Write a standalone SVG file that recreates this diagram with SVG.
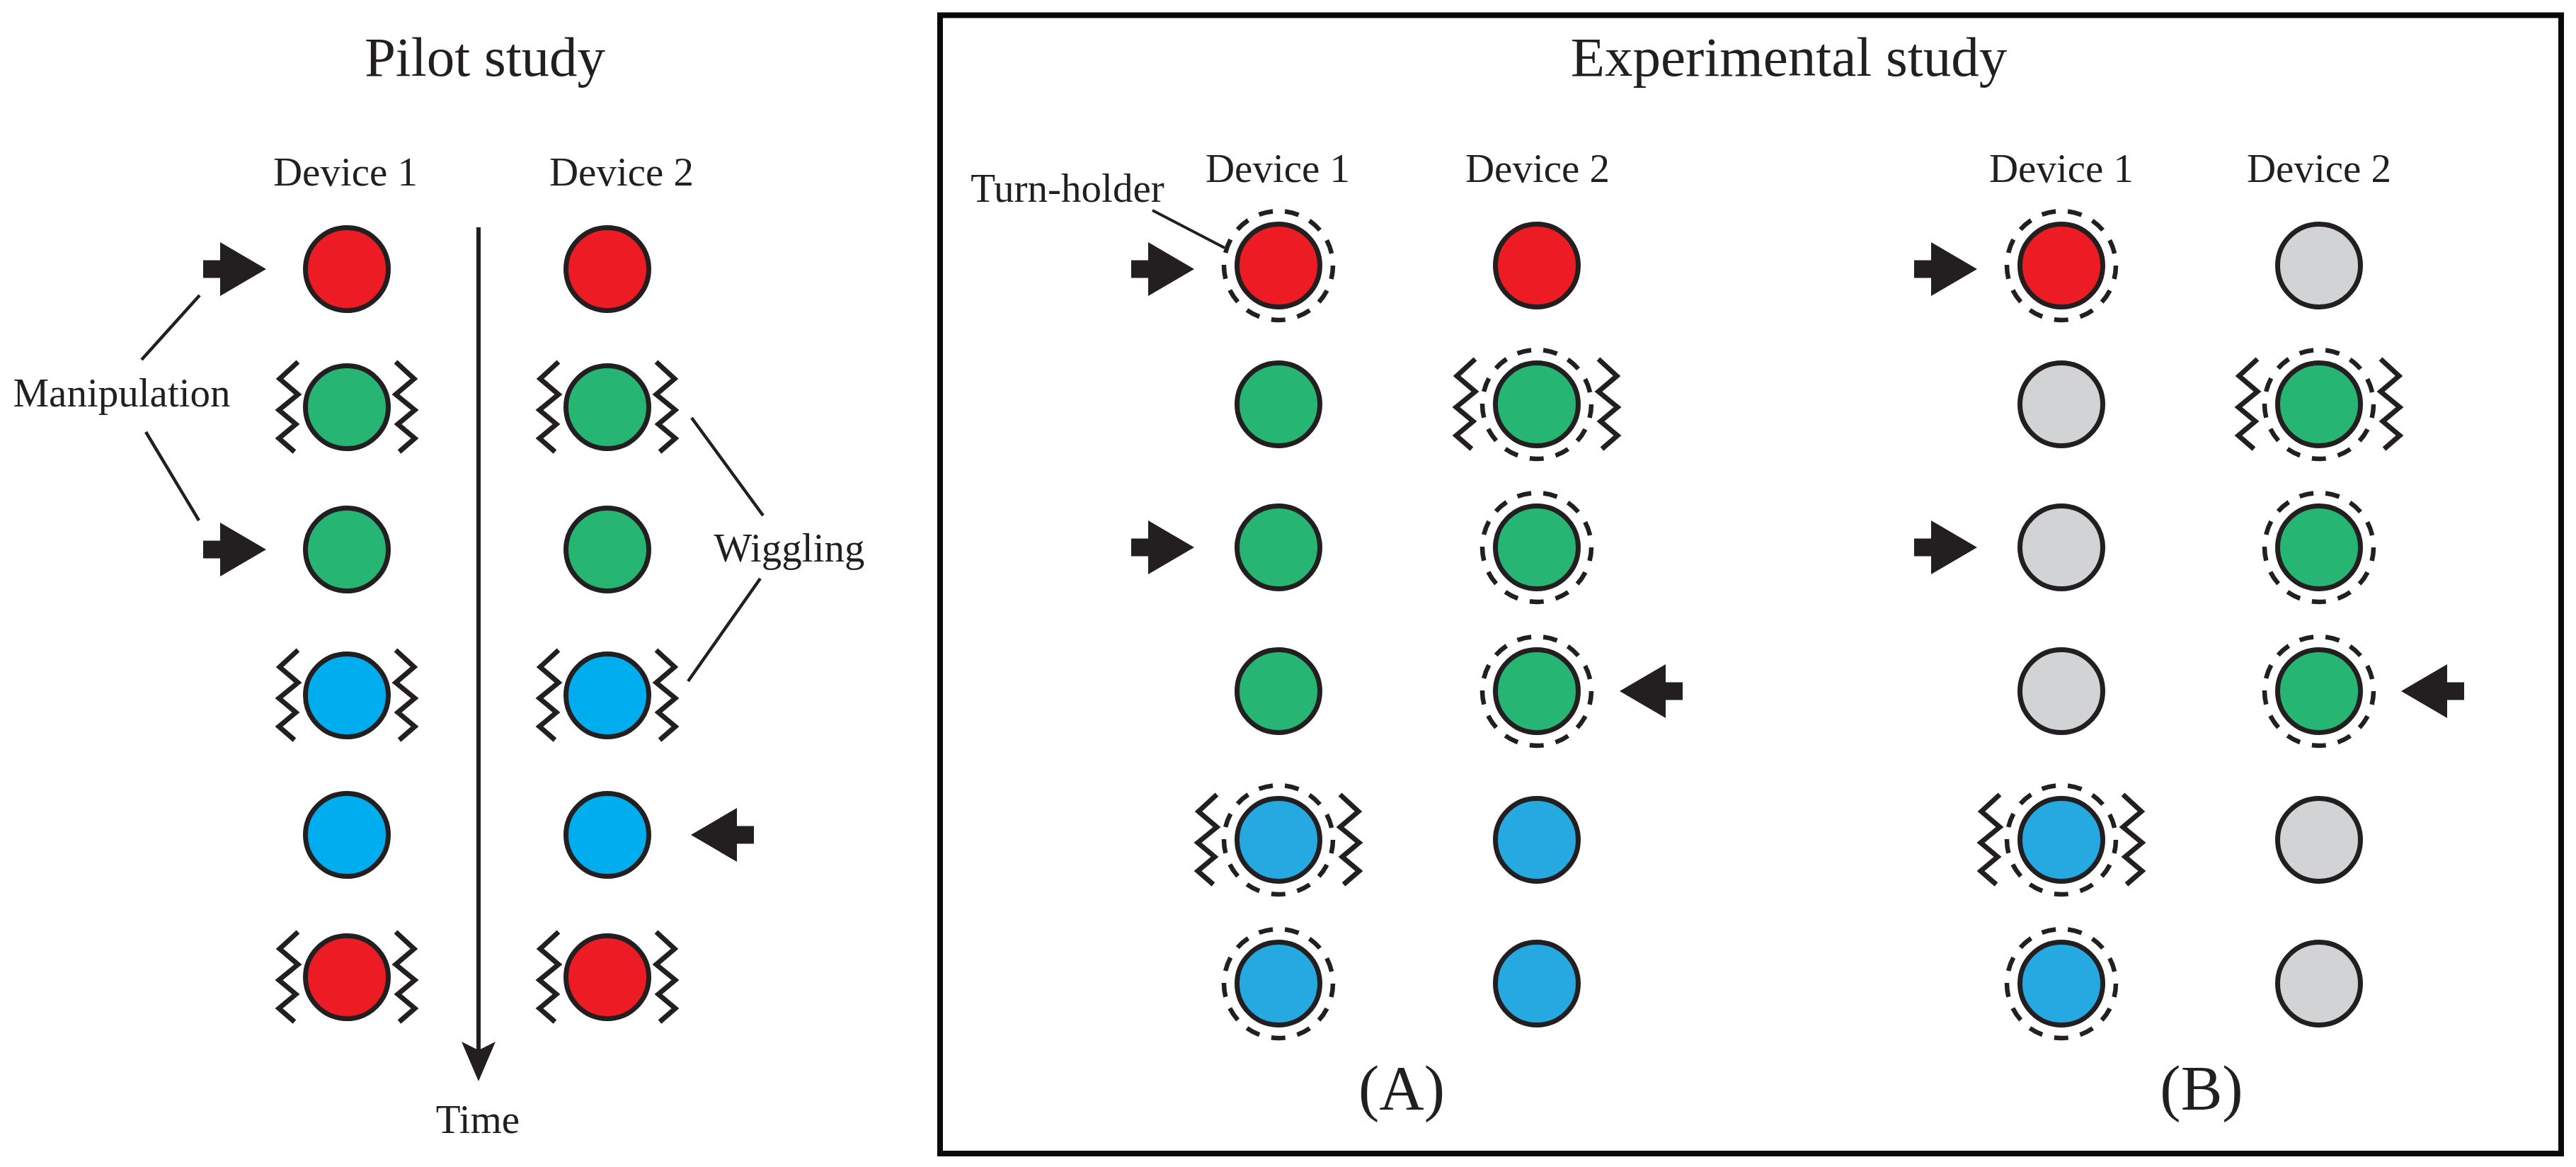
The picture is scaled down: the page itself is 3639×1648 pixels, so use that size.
<svg xmlns="http://www.w3.org/2000/svg" xmlns:xlink="http://www.w3.org/1999/xlink" width="3639" height="1648" viewBox="0 0 3639 1648">
<style>
text{font-family:"Liberation Serif","Times New Roman",serif;fill:#231F20;text-anchor:middle}
.lbl{font-size:57px}
.ttl{font-size:79px}
.big{font-size:88px}
.c{stroke:#231F20;stroke-width:7}
.red{fill:#ED1C24}
.grn{fill:#27B574}
.cyan{fill:#00AEEF}
.blu{fill:#25A9E0}
.gry{fill:#D1D3D4}
.ring{fill:none;stroke:#231F20;stroke-width:6.5;stroke-dasharray:20 17.216;stroke-dashoffset:0.696}
.zz{fill:none;stroke:#231F20;stroke-width:7;stroke-linejoin:miter;stroke-miterlimit:10}
.arr{fill:#231F20}
.ln{stroke:#231F20;stroke-width:4.5;fill:none}
</style>
<defs>
<path id="zz" d="M -69,-64 L -95,-40 L -69,-18 L -96,4 L -72,24 L -96,44 L -74,63"/>
<polygon id="ar" points="-89,-12.5 -65,-12.5 -65,-38 0,0 -65,38 -65,12.5 -89,12.5"/>
</defs>
<rect x="0" y="0" width="3639" height="1648" fill="#FFFFFF"/>

<!-- Titles and labels -->
<g id="labels">
<text class="ttl" x="685" y="107">Pilot study</text>
<text class="ttl" x="2527" y="107">Experimental study</text>
<text class="lbl" x="488" y="262">Device 1</text>
<text class="lbl" x="878" y="262">Device 2</text>
<text class="lbl" x="1805" y="257">Device 1</text>
<text class="lbl" x="2172" y="257">Device 2</text>
<text class="lbl" x="2912" y="257">Device 1</text>
<text class="lbl" x="3276" y="257">Device 2</text>
<text class="lbl" x="172" y="574">Manipulation</text>
<text class="lbl" x="1115" y="793">Wiggling</text>
<text class="lbl" x="675" y="1600">Time</text>
<text class="lbl" x="1508" y="285">Turn-holder</text>
<text class="big" x="1980" y="1566">(A)</text>
<text class="big" x="3110" y="1566">(B)</text>
</g>

<!-- Frame -->
<rect id="frame" x="1328" y="21.5" width="2290" height="1607.5" fill="none" stroke="#0A0908" stroke-width="8"/>

<!-- Connectors -->
<g id="connectors">
<line class="ln" x1="200" y1="508" x2="282" y2="417"/>
<line class="ln" x1="206" y1="610" x2="281" y2="735"/>
<line class="ln" x1="977" y1="590" x2="1078" y2="728"/>
<line class="ln" x1="1074" y1="817" x2="972" y2="962"/>
<line class="ln" style="stroke-width:4" x1="1628" y1="297" x2="1730" y2="350"/>
<line x1="676" y1="321" x2="676" y2="1486" stroke="#231F20" stroke-width="6"/>
<polygon class="arr" points="676,1527 652,1471 676,1483 700,1471"/>
</g>

<!-- Pilot study -->
<g id="pilot-d1-r1"><circle class="c red" cx="490" cy="380" r="58.5"/><use href="#ar" class="arr" transform="translate(376,380)"/></g>
<g id="pilot-d2-r1"><circle class="c red" cx="858" cy="380" r="58.5"/></g>
<g id="pilot-d1-r2"><circle class="c grn" cx="490" cy="575" r="58.5"/><use href="#zz" class="zz" transform="translate(490,575)"/><use href="#zz" class="zz" transform="translate(490,575) scale(-1,1)"/></g>
<g id="pilot-d2-r2"><circle class="c grn" cx="858" cy="575" r="58.5"/><use href="#zz" class="zz" transform="translate(858,575)"/><use href="#zz" class="zz" transform="translate(858,575) scale(-1,1)"/></g>
<g id="pilot-d1-r3"><circle class="c grn" cx="490" cy="776" r="58.5"/><use href="#ar" class="arr" transform="translate(376,776)"/></g>
<g id="pilot-d2-r3"><circle class="c grn" cx="858" cy="776" r="58.5"/></g>
<g id="pilot-d1-r4"><circle class="c cyan" cx="490" cy="982" r="58.5"/><use href="#zz" class="zz" transform="translate(490,982)"/><use href="#zz" class="zz" transform="translate(490,982) scale(-1,1)"/></g>
<g id="pilot-d2-r4"><circle class="c cyan" cx="858" cy="982" r="58.5"/><use href="#zz" class="zz" transform="translate(858,982)"/><use href="#zz" class="zz" transform="translate(858,982) scale(-1,1)"/></g>
<g id="pilot-d1-r5"><circle class="c cyan" cx="490" cy="1179" r="58.5"/></g>
<g id="pilot-d2-r5"><circle class="c cyan" cx="858" cy="1179" r="58.5"/><use href="#ar" class="arr" transform="translate(976,1179) scale(-1,1)"/></g>
<g id="pilot-d1-r6"><circle class="c red" cx="490" cy="1380" r="58.5"/><use href="#zz" class="zz" transform="translate(490,1380)"/><use href="#zz" class="zz" transform="translate(490,1380) scale(-1,1)"/></g>
<g id="pilot-d2-r6"><circle class="c red" cx="858" cy="1380" r="58.5"/><use href="#zz" class="zz" transform="translate(858,1380)"/><use href="#zz" class="zz" transform="translate(858,1380) scale(-1,1)"/></g>

<!-- Experimental (A) -->
<g id="A-d1-r1"><circle class="c red" cx="1806" cy="375" r="58.5"/><circle class="ring" cx="1806" cy="375" r="77"/><use href="#ar" class="arr" transform="translate(1687,380)"/></g>
<g id="A-d2-r1"><circle class="c red" cx="2171" cy="375" r="58.5"/></g>
<g id="A-d1-r2"><circle class="c grn" cx="1806" cy="571" r="58.5"/></g>
<g id="A-d2-r2"><circle class="c grn" cx="2171" cy="571" r="58.5"/><circle class="ring" cx="2171" cy="571" r="77"/><use href="#zz" class="zz" transform="translate(2153,571)"/><use href="#zz" class="zz" transform="translate(2189,571) scale(-1,1)"/></g>
<g id="A-d1-r3"><circle class="c grn" cx="1806" cy="773" r="58.5"/><use href="#ar" class="arr" transform="translate(1687,773)"/></g>
<g id="A-d2-r3"><circle class="c grn" cx="2171" cy="773" r="58.5"/><circle class="ring" cx="2171" cy="773" r="77"/></g>
<g id="A-d1-r4"><circle class="c grn" cx="1806" cy="976" r="58.5"/></g>
<g id="A-d2-r4"><circle class="c grn" cx="2171" cy="976" r="58.5"/><circle class="ring" cx="2171" cy="976" r="77"/><use href="#ar" class="arr" transform="translate(2288,976) scale(-1,1)"/></g>
<g id="A-d1-r5"><circle class="c blu" cx="1806" cy="1186" r="58.5"/><circle class="ring" cx="1806" cy="1186" r="77"/><use href="#zz" class="zz" transform="translate(1788,1186)"/><use href="#zz" class="zz" transform="translate(1824,1186) scale(-1,1)"/></g>
<g id="A-d2-r5"><circle class="c blu" cx="2171" cy="1186" r="58.5"/></g>
<g id="A-d1-r6"><circle class="c blu" cx="1806" cy="1389" r="58.5"/><circle class="ring" cx="1806" cy="1389" r="77"/></g>
<g id="A-d2-r6"><circle class="c blu" cx="2171" cy="1389" r="58.5"/></g>

<!-- Experimental (B) -->
<g id="B-d1-r1"><circle class="c red" cx="2912" cy="375" r="58.5"/><circle class="ring" cx="2912" cy="375" r="77"/><use href="#ar" class="arr" transform="translate(2793,380)"/></g>
<g id="B-d2-r1"><circle class="c gry" cx="3276" cy="375" r="58.5"/></g>
<g id="B-d1-r2"><circle class="c gry" cx="2912" cy="571" r="58.5"/></g>
<g id="B-d2-r2"><circle class="c grn" cx="3276" cy="571" r="58.5"/><circle class="ring" cx="3276" cy="571" r="77"/><use href="#zz" class="zz" transform="translate(3258,571)"/><use href="#zz" class="zz" transform="translate(3294,571) scale(-1,1)"/></g>
<g id="B-d1-r3"><circle class="c gry" cx="2912" cy="773" r="58.5"/><use href="#ar" class="arr" transform="translate(2793,773)"/></g>
<g id="B-d2-r3"><circle class="c grn" cx="3276" cy="773" r="58.5"/><circle class="ring" cx="3276" cy="773" r="77"/></g>
<g id="B-d1-r4"><circle class="c gry" cx="2912" cy="976" r="58.5"/></g>
<g id="B-d2-r4"><circle class="c grn" cx="3276" cy="976" r="58.5"/><circle class="ring" cx="3276" cy="976" r="77"/><use href="#ar" class="arr" transform="translate(3392,976) scale(-1,1)"/></g>
<g id="B-d1-r5"><circle class="c blu" cx="2912" cy="1186" r="58.5"/><circle class="ring" cx="2912" cy="1186" r="77"/><use href="#zz" class="zz" transform="translate(2894,1186)"/><use href="#zz" class="zz" transform="translate(2930,1186) scale(-1,1)"/></g>
<g id="B-d2-r5"><circle class="c gry" cx="3276" cy="1186" r="58.5"/></g>
<g id="B-d1-r6"><circle class="c blu" cx="2912" cy="1389" r="58.5"/><circle class="ring" cx="2912" cy="1389" r="77"/></g>
<g id="B-d2-r6"><circle class="c gry" cx="3276" cy="1389" r="58.5"/></g>
</svg>
